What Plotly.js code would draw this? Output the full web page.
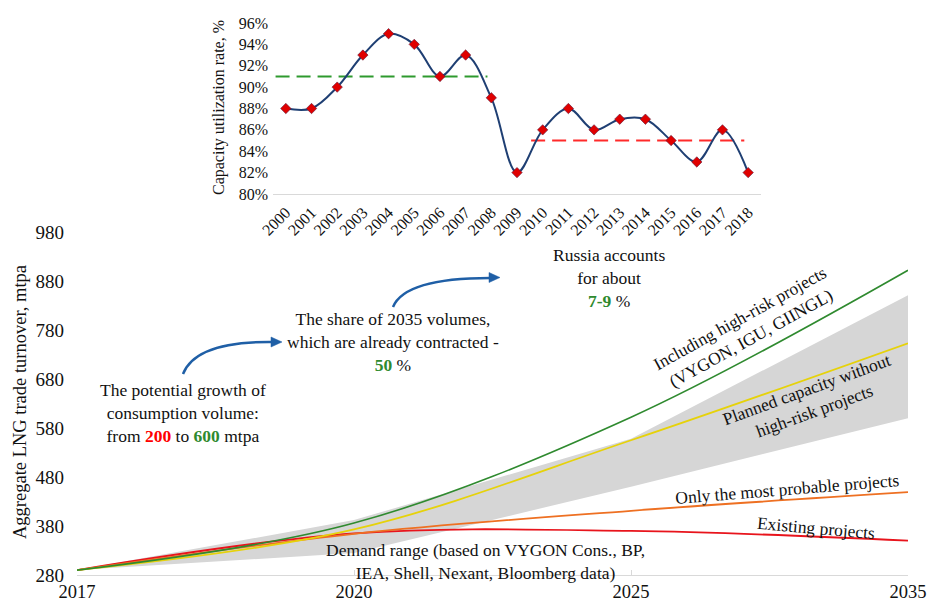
<!DOCTYPE html>
<html>
<head>
<meta charset="utf-8">
<script src="https://cdn.plot.ly/plotly-3.0.1.min.js"></script>
<style>
html,body{margin:0;padding:0;background:#fff;}
#chart{width:930px;height:605px;}
</style>
</head>
<body>
<div id="chart"></div>
<script>
// ---------- Main chart data ----------
const mainCategories = ['2017', '2020', '2025', '2035'];
const existingProjects = [290, 365, 370, 350];
const mostProbable = [290, 364, 411, 449];
const plannedNoHighRisk = [290, 373, 555, 753];
const inclHighRisk = [290, 386, 602, 902];
const demandLow = [290, 325, 460, 600];
const demandHigh = [290, 392, 558, 851];
const mainYTicks = [280, 380, 480, 580, 680, 780, 880, 980];

// ---------- Inset chart data ----------
const insetYears = [2000, 2001, 2002, 2003, 2004, 2005, 2006, 2007, 2008, 2009,
                    2010, 2011, 2012, 2013, 2014, 2015, 2016, 2017, 2018];
const utilization = [88, 88, 90, 93, 95, 94, 91, 93, 89, 82,
                     86, 88, 86, 87, 87, 85, 83, 86, 82];
const avg1X = [1999.6, 2007.85];
const avg1Y = [91, 91];
const avg2X = [2009.55, 2017.85];
const avg2Y = [85, 85];
const insetYTicks = [80, 82, 84, 86, 88, 90, 92, 94, 96];
const insetYTickText = ['80%', '82%', '84%', '86%', '88%', '90%', '92%', '94%', '96%'];

// ---------- layout helpers (pixel -> paper) ----------
const W = 930, H = 605, ML = 77, MR = 22, MT = 0, MB = 30;
function px(x) { return (x - ML) / (W - ML - MR); }
function py(y) { return (H - MB - y) / (H - MT - MB); }

const FONT = 'Liberation Serif';
const GREEN = '#2f8a2f';
const YELLOW = '#e6d20a';
const ORANGE = '#ee7022';
const RED = '#e8141c';
const BAND = '#d6d6d6';
const ARROW = '#1f5fa6';

const traces = [
  { x: mainCategories, y: demandLow, type: 'scatter', mode: 'lines',
    line: { width: 0, color: BAND }, hoverinfo: 'skip', showlegend: false },
  { x: mainCategories, y: demandHigh, type: 'scatter', mode: 'lines', fill: 'tonexty',
    fillcolor: BAND, line: { width: 0, color: BAND }, showlegend: false },
  { x: mainCategories, y: existingProjects, type: 'scatter', mode: 'lines',
    line: { color: RED, width: 1.8, shape: 'spline', smoothing: 1 }, showlegend: false },
  { x: mainCategories, y: mostProbable, type: 'scatter', mode: 'lines',
    line: { color: ORANGE, width: 1.8, shape: 'spline', smoothing: 1 }, showlegend: false },
  { x: mainCategories, y: plannedNoHighRisk, type: 'scatter', mode: 'lines',
    line: { color: YELLOW, width: 1.8, shape: 'spline', smoothing: 1 }, showlegend: false },
  { x: mainCategories, y: inclHighRisk, type: 'scatter', mode: 'lines',
    line: { color: GREEN, width: 1.6, shape: 'spline', smoothing: 1 }, showlegend: false },
  // inset
  { x: avg1X, y: avg1Y, xaxis: 'x2', yaxis: 'y2', type: 'scatter', mode: 'lines',
    line: { color: '#2e9a2e', width: 2, dash: '14px,7px' }, showlegend: false },
  { x: avg2X, y: avg2Y, xaxis: 'x2', yaxis: 'y2', type: 'scatter', mode: 'lines',
    line: { color: '#ff2a2a', width: 2, dash: '14px,7px' }, showlegend: false },
  { x: insetYears, y: utilization, xaxis: 'x2', yaxis: 'y2', type: 'scatter', mode: 'lines+markers',
    line: { color: '#1f3f73', width: 2, shape: 'spline', smoothing: 1 },
    marker: { symbol: 'diamond', size: 8, color: '#e00000', line: { color: '#5a1a3a', width: 0.6 } },
    showlegend: false }
];

function ann(x, y, text, opts) {
  return Object.assign({
    xref: 'paper', yref: 'paper', x: px(x), y: py(y), text: text, showarrow: false,
    xanchor: 'center', yanchor: 'middle', align: 'center',
    font: { family: FONT, size: 17.5, color: '#111' }
  }, opts || {});
}

const annotations = [
  ann(20, 402, 'Aggregate LNG trade turnover, mtpa', { textangle: -90, font: { family: FONT, size: 18.5, color: '#111' } }),
  ann(219, 108, 'Capacity utilization rate, %', { textangle: -90, font: { family: FONT, size: 16, color: '#111' } }),
  ann(183, 413, 'The potential growth of<br>consumption volume:<br>from <b><span style="color:#ff0000">200</span></b> to <b><span style="color:#2f8a2f">600</span></b> mtpa'),
  ann(393, 342, 'The share of 2035 volumes,<br>which are already contracted -<br><b><span style="color:#2f8a2f">50</span></b> %'),
  ann(609, 278, 'Russia accounts<br>for about<br><b><span style="color:#2f8a2f">7-9</span></b> %'),
  ann(485, 561, 'Demand range (based on VYGON Cons., BP,<br>IEA, Shell, Nexant, Bloomberg data)'),
  ann(745, 328, 'Including high-risk projects<br>(VYGON, IGU, GIINGL)', { textangle: -29 }),
  ann(810, 400, 'Planned capacity without<br>high-risk projects', { textangle: -20 }),
  ann(787, 489, 'Only the most probable projects', { textangle: -4.6 }),
  ann(816, 528, 'Existing projects', { textangle: 5 })
];

function P(x, y) { return px(x) + ',' + py(y); }

const shapes = [
  { type: 'path', xref: 'paper', yref: 'paper',
    path: 'M ' + P(183, 374) + ' Q ' + P(196, 341) + ' ' + P(273, 342),
    line: { color: ARROW, width: 2.5 } },
  { type: 'path', xref: 'paper', yref: 'paper',
    path: 'M ' + P(282, 342) + ' L ' + P(271, 337) + ' L ' + P(271, 347) + ' Z',
    fillcolor: ARROW, line: { color: ARROW, width: 0.5 } },
  { type: 'path', xref: 'paper', yref: 'paper',
    path: 'M ' + P(393, 307) + ' Q ' + P(405, 278) + ' ' + P(490, 278),
    line: { color: ARROW, width: 2.5 } },
  { type: 'path', xref: 'paper', yref: 'paper',
    path: 'M ' + P(500, 277.5) + ' L ' + P(489, 272.5) + ' L ' + P(489, 282.5) + ' Z',
    fillcolor: ARROW, line: { color: ARROW, width: 0.5 } }
];

const layout = {
  width: W, height: H,
  margin: { l: ML, r: MR, t: MT, b: MB },
  paper_bgcolor: '#fff', plot_bgcolor: 'rgba(0,0,0,0)',
  font: { family: FONT, color: '#111' },
  showlegend: false,
  xaxis: {
    domain: [0, 1], type: 'category', range: [0, 3],
    showgrid: false, zeroline: false, showline: true, linecolor: '#d9d9d9', linewidth: 1,
    ticks: 'inside', ticklen: 5, tickcolor: '#d9d9d9',
    tickfont: { family: FONT, size: 18.5, color: '#111' },
    ticklabelstandoff: 0, fixedrange: true
  },
  yaxis: {
    domain: [0, py(232)], range: [280, 980],
    tickvals: mainYTicks, showgrid: false, zeroline: false, showline: false,
    ticks: '', tickfont: { family: FONT, size: 19, color: '#111' },
    ticklabelstandoff: 12, fixedrange: true
  },
  xaxis2: {
    domain: [px(273), px(761)], anchor: 'y2', range: [1999.5, 2018.5],
    tickvals: insetYears, tickangle: -45, showgrid: false, zeroline: false,
    showline: true, linecolor: '#d9d9d9', linewidth: 1, ticks: '',
    tickfont: { family: FONT, size: 16, color: '#111' }, ticklabelstandoff: 2, fixedrange: true
  },
  yaxis2: {
    domain: [py(194), py(23)], anchor: 'x2', range: [80, 96],
    tickvals: insetYTicks, ticktext: insetYTickText, showgrid: false, zeroline: false,
    showline: false, ticks: '', tickfont: { family: FONT, size: 16, color: '#111' },
    ticklabelstandoff: 4, fixedrange: true
  },
  annotations: annotations,
  shapes: shapes
};

Plotly.newPlot('chart', traces, layout, { displayModeBar: false, staticPlot: true });
</script>
</body>
</html>
